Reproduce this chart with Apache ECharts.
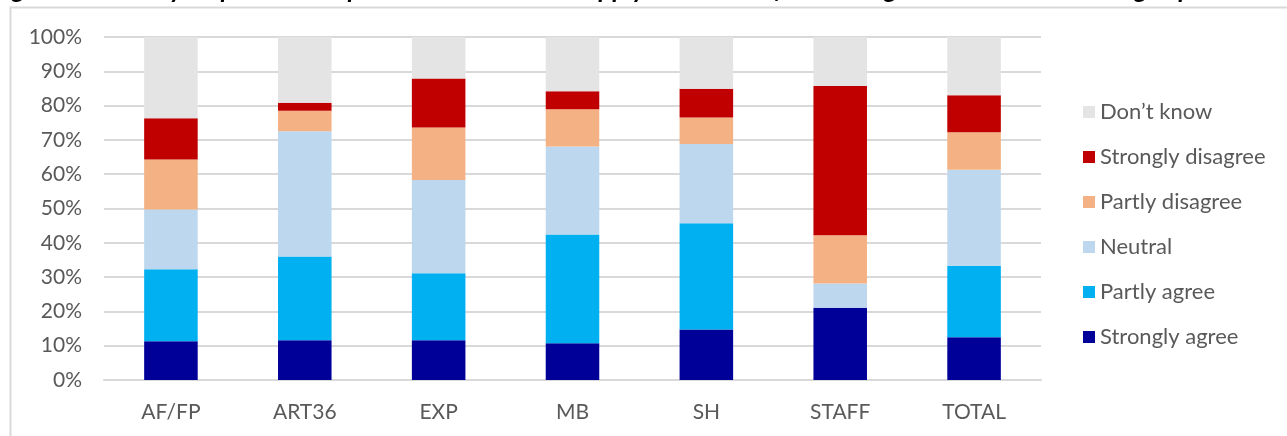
<!DOCTYPE html>
<html>
<head>
<meta charset="utf-8">
<title>Survey respondents' opinion</title>
<script src="https://cdn.jsdelivr.net/npm/echarts@6/dist/echarts.min.js"></script>
<style>
  html, body { margin: 0; padding: 0; background: #ffffff; }
  #chart { width: 1287px; height: 436px; }
</style>
</head>
<body>
<div id="chart"></div>
<script>
// Respondent groups along the horizontal axis
const categories = ['AF/FP', 'ART36', 'EXP', 'MB', 'SH', 'STAFF', 'TOTAL'];

// Share of answers per group, in percent (stacked bottom to top)
const stronglyAgree    = [11.3, 11.6, 11.6, 10.7, 14.7, 21.1, 12.5];
const partlyAgree      = [21.0, 24.4, 19.5, 31.7, 31.0,  0.0, 20.8];
const neutral          = [17.4, 36.5, 27.2, 25.7, 23.1,  7.0, 28.0];
const partlyDisagree   = [14.6,  6.0, 15.3, 10.8,  7.7, 14.1, 10.9];
const stronglyDisagree = [12.0,  2.3, 14.3,  5.3,  8.4, 43.5, 10.8];
const dontKnow         = [23.7, 19.2, 12.1, 15.8, 15.1, 14.3, 17.0];

const seriesNames = ['Strongly agree', 'Partly agree', 'Neutral', 'Partly disagree', 'Strongly disagree', 'Don\u2019t know'];
const seriesColors = ['#000099', '#00B0F0', '#BDD7EE', '#F4B183', '#C00000', '#E4E4E4'];
const seriesValues = [stronglyAgree, partlyAgree, neutral, partlyDisagree, stronglyDisagree, dontKnow];

const titleText = 'Figure 10: Survey respondents\u2019 opinion on the need to apply stricter conflict management rules to meeting experts';

const FONT = 'Lato, "Open Sans", sans-serif';
const TEXT_COLOR = '#595959';
const GRID_COLOR = '#D9D9D9';

const chart = echarts.init(document.getElementById('chart'), null, { renderer: 'canvas' });

const series = seriesNames.map((name, i) => ({
  name: name,
  type: 'bar',
  stack: 'total',
  barWidth: '40%',
  data: seriesValues[i],
  itemStyle: { color: seriesColors[i] },
  emphasis: { disabled: true }
}));

chart.setOption({
  animation: false,
  backgroundColor: '#ffffff',
  textStyle: { fontFamily: FONT },
  graphic: [
    {
      // chart frame, partly running off the page
      type: 'rect',
      z: -1,
      shape: { x: 10.5, y: 7.5, width: 1400, height: 500 },
      style: { fill: 'none', stroke: GRID_COLOR, lineWidth: 2 }
    },
    {
      // caption above the chart frame, mostly cut off at the page edge
      type: 'text',
      x: -8,
      y: 3,
      style: {
        text: titleText,
        font: 'italic bold 26px ' + FONT,
        fill: '#000000',
        verticalAlign: 'bottom',
        align: 'left'
      }
    }
  ],
  legend: {
    orient: 'vertical',
    left: 1083,
    top: 101,
    padding: 0,
    itemWidth: 12,
    itemHeight: 12,
    itemGap: 23,
    icon: 'rect',
    selectedMode: false,
    data: seriesNames.slice().reverse(),
    textStyle: { color: TEXT_COLOR, fontSize: 22, lineHeight: 22, fontFamily: FONT }
  },
  grid: { left: 104, right: 246, top: 37, bottom: 56, containLabel: false },
  xAxis: {
    type: 'category',
    data: categories,
    axisTick: { show: false },
    axisLine: { show: true, lineStyle: { color: GRID_COLOR, width: 2 } },
    axisLabel: { color: TEXT_COLOR, fontSize: 21, margin: 22, fontFamily: FONT }
  },
  yAxis: {
    type: 'value',
    min: 0,
    max: 100,
    interval: 10,
    axisLine: { show: false },
    axisTick: { show: false },
    splitLine: { lineStyle: { color: GRID_COLOR, width: 2 } },
    axisLabel: { color: TEXT_COLOR, fontSize: 21, margin: 22, formatter: '{value}%', fontFamily: FONT }
  },
  series: series
});
</script>
</body>
</html>
